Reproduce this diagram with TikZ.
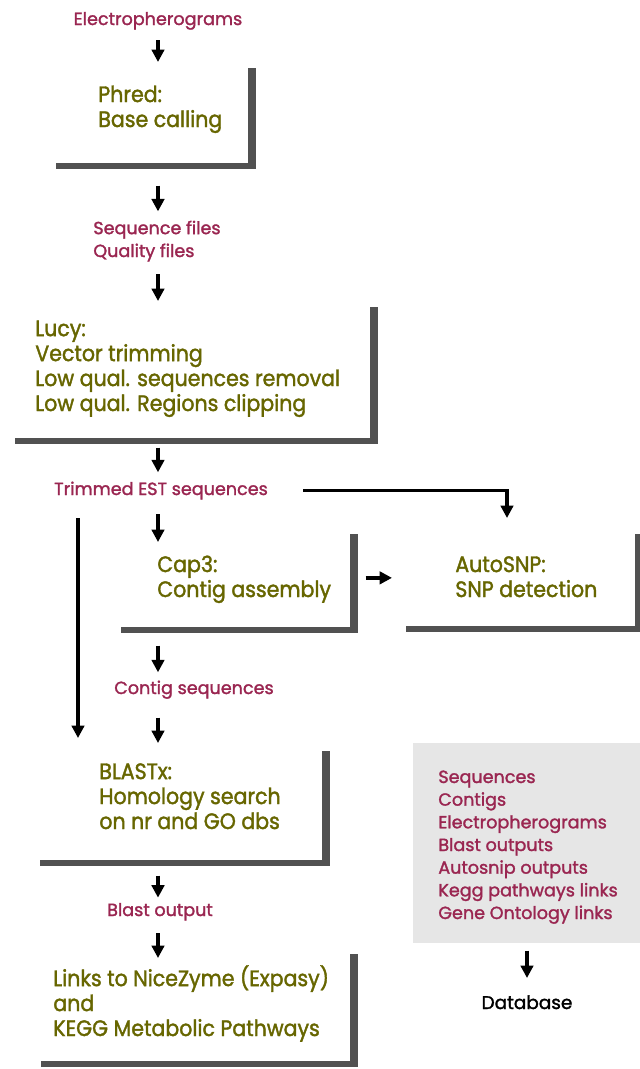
\documentclass[tikz,border=0pt]{standalone}
\usepackage{fontspec}
\setmainfont{Poppins}
\newfontfamily\stagefont{Poppins}[FakeStretch=0.92, FakeBold=1.6]
\newfontfamily\datafont{Poppins}[FakeBold=1.6]
\usepackage{xcolor}
\usepackage{tikz}
\usetikzlibrary{arrows.meta,shadows}
\definecolor{stagetext}{HTML}{676600}
\definecolor{datatext}{HTML}{9A2651}
\definecolor{store}{HTML}{E6E6E6}

\tikzset{
  stage/.style={anchor=north west, fill=white, inner sep=0pt,
    drop shadow={shadow xshift=1.5mm, shadow yshift=-1.1mm, fill=black!80, opacity=.85}},
  % base west = baseline of the last line
  stagetxt/.style={anchor=base west, inner sep=0pt, align=left, text=stagetext,
    font=\stagefont\fontsize{12.7}{14.2}\selectfont},
  data/.style={inner sep=0pt, text=datatext, font=\datafont\fontsize{10}{13}\selectfont},
  flow/.style={line width=0.8mm, -{Triangle[width=2.5mm,length=2.5mm]}},
  link/.style={line width=0.65mm, -{Triangle[width=2.5mm,length=2.5mm]}},
}

\begin{document}
\begin{tikzpicture}[x=0.2mm, y=-0.2mm]
\fill[white] (0,0) rectangle (640,1069);
\useasboundingbox (0,0) rectangle (640,1069);
\coordinate (spine) at (158,0);
\coordinate (bypass) at (78,0);
\coordinate (snpin) at (507,518);

% main column
\node[data, anchor=base] (elec) at (158,25) {Electropherograms};
\node[stage, minimum width=40mm, minimum height=20.2mm] (phred) at (48,62) {};
\node[stagetxt] (phredtxt) at (98,127) {Phred:\\Base calling};
\node[data, anchor=base west, align=left] (seqfiles) at (93,257) {Sequence files\\Quality files};
\node[stage, minimum width=72.6mm, minimum height=27.4mm] (lucy) at (7,301) {};
\node[stagetxt] (lucytxt) at (35,411) {Lucy:\\Vector trimming\\Low qual. sequences removal\\Low qual. Regions clipping};
\node[data, anchor=base] (trimmed) at (161,495) {Trimmed EST sequences};
\node[stage, minimum width=47.4mm, minimum height=19.8mm] (cap3) at (113,528) {};
\node[stagetxt] (cap3txt) at (157,597) {Cap3:\\Contig assembly};
\node[stage, minimum width=47.4mm, minimum height=19.6mm] (autosnp) at (398,528) {};
\node[stagetxt] (autosnptxt) at (455,597) {AutoSNP:\\SNP detection};
\node[data, anchor=base] (contigs) at (194,694) {Contig sequences};
\node[stage, minimum width=58mm, minimum height=23mm] (blastx) at (32,745) {};
\node[stagetxt] (blastxtxt) at (99,829) {BLASTx:\\Homology search\\on nr and GO dbs};
\node[data, anchor=base] (blastout) at (160,916) {Blast output};
\node[stage, minimum width=63.4mm, minimum height=22.6mm] (links) at (33,948) {};
\node[stagetxt] (linkstxt) at (53,1036) {Links to NiceZyme (Expasy)\\and\\KEGG Metabolic Pathways};

% stored data
\node[anchor=north west, fill=store, inner sep=0pt, minimum width=45.4mm, minimum height=40mm] (store) at (413,743) {};
\node[data, anchor=base west, align=left, font=\datafont\fontsize{10}{12.9}\selectfont] (storetxt) at (438,919)
  {Sequences\\Contigs\\Electropherograms\\Blast outputs\\Autosnip outputs\\Kegg pathways links\\Gene Ontology links};
\node[inner sep=0pt, anchor=base, font=\datafont\fontsize{10.5}{13}\selectfont] (db) at (527,1009) {Database};

% arrows
\draw[flow, shorten <=2mm] (elec.south -| spine) -- (phred.north -| spine);
\draw[flow, shorten <=4.4mm, shorten >=1.8mm] (phred.south -| spine) -- (seqfiles.north -| spine);
\draw[flow, shorten <=2.5mm] (seqfiles.south -| spine) -- (lucy.north -| spine);
\draw[flow, shorten <=1.8mm, shorten >=1.8mm] (lucy.south -| spine) -- (trimmed.north -| spine);
\draw[flow, shorten <=2.9mm, shorten >=-2.8mm] (trimmed.south -| spine) -- (cap3.north -| spine);
\draw[flow, shorten <=3mm, shorten >=1.2mm] (cap3.east) -- (autosnp.west |- cap3.east);
\draw[flow, shorten <=3.6mm, shorten >=1.6mm] (cap3.south -| spine) -- (contigs.north -| spine);
\draw[flow, shorten <=3.7mm, shorten >=0.4mm] (contigs.south -| spine) -- (blastx.north -| spine);
\draw[flow, shorten <=3mm, shorten >=1mm] (blastx.south -| spine) -- (blastout.north -| spine);
\draw[flow, shorten <=2.5mm, shorten >=-2mm] (blastout.south -| spine) -- (links.north -| spine);
\draw[flow, shorten <=1.4mm, shorten >=3.4mm] (store.south -| db) -- (db.north);
\draw[link, shorten <=7mm] (trimmed.east) -| (snpin);
\draw[link, shorten <=3.7mm, shorten >=1.4mm] (trimmed.south -| bypass) -- (blastx.north -| bypass);
\end{tikzpicture}
\end{document}
